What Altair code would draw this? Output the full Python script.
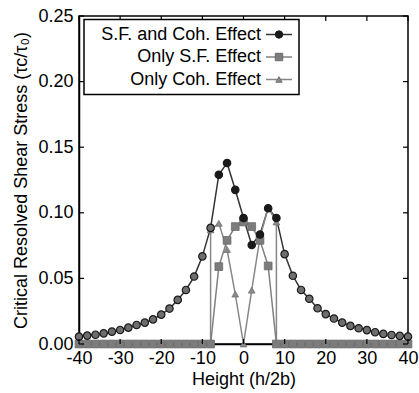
import altair as alt
import pandas as pd

# ---------------- data ----------------
heights = [-40, -38, -36, -34, -32, -30, -28, -26, -24, -22, -20, -18, -16, -14,
           -12, -10, -8, -6, -4, -2, 0, 2, 4, 6, 8, 10, 12, 14, 16, 18, 20, 22,
           24, 26, 28, 30, 32, 34, 36, 38, 40]

sf_and_coh = [0.0056, 0.0064, 0.0071, 0.0081, 0.0094, 0.0107, 0.0125, 0.0145,
              0.0163, 0.0188, 0.0224, 0.0270, 0.0336, 0.0412, 0.0514, 0.0668,
              0.0885, 0.1290, 0.1380, 0.1175, 0.0960, 0.0755, 0.0835, 0.1035,
              0.0960, 0.0685, 0.0520, 0.0412, 0.0345, 0.0272, 0.0228, 0.0194,
              0.0163, 0.0138, 0.0120, 0.0106, 0.0090, 0.0077, 0.0069, 0.0062,
              0.0056]

only_sf = [0, 0, 0, 0, 0, 0, 0, 0, 0, 0, 0, 0, 0, 0, 0, 0, 0,
           0.0590, 0.0790, 0.0895, 0.0930, 0.0895, 0.0790, 0.0595,
           0, 0, 0, 0, 0, 0, 0, 0, 0, 0, 0, 0, 0, 0, 0, 0, 0]

coh_heights = [-40, -38, -36, -34, -32, -30, -28, -26, -24, -22, -20, -18, -16,
               -14, -12, -10, -8, -8, -6, -4, -2, 0, 2, 4, 6, 8, 8, 10, 12, 14,
               16, 18, 20, 22, 24, 26, 28, 30, 32, 34, 36, 38, 40]
only_coh = [0, 0, 0, 0, 0, 0, 0, 0, 0, 0, 0, 0, 0, 0, 0, 0, 0,
            0.0870, 0.0920, 0.0720, 0.0380, 0.0, 0.0410, 0.0810, 0.1040, 0.0930,
            0, 0, 0, 0, 0, 0, 0, 0, 0, 0, 0, 0, 0, 0, 0, 0, 0]

series_names = ["S.F. and Coh. Effect", "Only S.F. Effect", "Only Coh. Effect"]
x_ticks = [-40, -30, -20, -10, 0, 10, 20, 30, 40]
y_ticks = [0.0, 0.05, 0.10, 0.15, 0.20, 0.25]

# ---------------- layout / style ----------------
W, H = 329, 328
FONT = "Liberation Sans"

xs = alt.Scale(domain=[-40, 40], nice=False, zero=False)
ys = alt.Scale(domain=[0, 0.25], nice=False)

df_c = pd.DataFrame({"h": heights, "v": sf_and_coh})
df_s = pd.DataFrame({"h": heights, "v": only_sf})
df_t = pd.DataFrame({"h": coh_heights, "v": only_coh, "i": list(range(len(coh_heights)))})

x_axis = alt.Axis(values=x_ticks, ticks=False, grid=False, labelFont=FONT,
                  labelFontSize=18, labelColor="black", labelPadding=5,
                  labelFlush=False,
                  labelExpr="datum.value < 0 ? '-' + abs(datum.value) : '' + datum.value",
                  title="Height (h/2b)", titleFont=FONT, titleFontSize=18,
                  titleFontWeight="normal", titleColor="black", titlePadding=3,
                  domainColor="black", domainWidth=1.5)
y_axis = alt.Axis(values=y_ticks, format=".2f", ticks=False, grid=False,
                  labelFont=FONT, labelFontSize=18, labelColor="black",
                  labelPadding=6, labelFlush=False,
                  title="Critical Resolved Shear Stress (τc/τ₀)", titleFont=FONT,
                  titleFontSize=18, titleFontWeight="normal", titleColor="black",
                  titlePadding=7, domainColor="black", domainWidth=1.5)

X = alt.X("h:Q", scale=xs, axis=x_axis)
Y = alt.Y("v:Q", scale=ys, axis=y_axis)

line_c = alt.Chart(df_c).mark_line(color="#333333", strokeWidth=1.5).encode(x=X, y=Y)

line_t = alt.Chart(df_t).mark_line(color="#888888", strokeWidth=1.5).encode(
    x=X, y=Y, order="i:Q")
pts_t = alt.Chart(df_t).mark_point(shape="triangle-up", filled=True, size=45,
                                   fill="#8a8a8a", stroke="#707070",
                                   strokeWidth=0.8, opacity=1).encode(x=X, y=Y)

line_s = alt.Chart(df_s).mark_line(color="#808080", strokeWidth=1.5).encode(x=X, y=Y)
pts_s = alt.Chart(df_s).mark_point(shape="square", filled=True, size=60,
                                   fill="#7c7c7c", stroke="#6a6a6a",
                                   strokeWidth=0.8, opacity=1).encode(x=X, y=Y)

pts_c = alt.Chart(df_c).mark_point(shape="circle", filled=True, size=55,
                                   stroke="#1a1a1a", strokeWidth=1.2,
                                   opacity=1).encode(
    x=X, y=Y,
    fill=alt.condition("datum.h > -7 && datum.h < 9", alt.value("#1a1a1a"),
                       alt.value("#6e6e6e")))

# inward ticks on all four sides
dfx = pd.DataFrame({"h": x_ticks})
dfy = pd.DataFrame({"v": y_ticks})
tick_b = alt.Chart(dfx).mark_rule(color="black", strokeWidth=1.2).encode(
    x=X, y=alt.value(H), y2=alt.value(H - 5))
tick_t = alt.Chart(dfx).mark_rule(color="black", strokeWidth=1.2).encode(
    x=X, y=alt.value(0), y2=alt.value(5))
tick_l = alt.Chart(dfy).mark_rule(color="black", strokeWidth=1.2).encode(
    y=Y, x=alt.value(0), x2=alt.value(5))
tick_r = alt.Chart(dfy).mark_rule(color="black", strokeWidth=1.2).encode(
    y=Y, x=alt.value(W), x2=alt.value(W - 5))

# legend box (drawn manually: label left, symbol right)
one = pd.DataFrame({"k": [0]})
leg_box = alt.Chart(one).mark_rect(fill="white", stroke="black", strokeWidth=1.5).encode(
    x=alt.value(5), x2=alt.value(220), y=alt.value(3.5), y2=alt.value(78.5))

rows_y = [18.5, 41, 63.5]
leg_layers = []
sym = [("circle", "#1a1a1a", "#1a1a1a", "#333333", 55),
       ("square", "#7c7c7c", "#6a6a6a", "#808080", 55),
       ("triangle-up", "#8a8a8a", "#707070", "#888888", 40)]
for name, yy, (shape, fill, stroke, lc, sz) in zip(series_names, rows_y, sym):
    d = pd.DataFrame({"label": [name]})
    leg_layers.append(alt.Chart(d).mark_text(align="right", baseline="middle",
                                             font=FONT, fontSize=18, color="black").encode(
        x=alt.value(182), y=alt.value(yy), text="label:N"))
    leg_layers.append(alt.Chart(d).mark_rule(color=lc, strokeWidth=1.5).encode(
        x=alt.value(187), x2=alt.value(213), y=alt.value(yy)))
    leg_layers.append(alt.Chart(d).mark_point(shape=shape, filled=True, size=sz,
                                              fill=fill, stroke=stroke,
                                              strokeWidth=1, opacity=1).encode(
        x=alt.value(200), y=alt.value(yy)))

chart = alt.layer(
    line_c, line_t, pts_t, line_s, pts_s, pts_c,
    tick_b, tick_t, tick_l, tick_r,
    leg_box, *leg_layers
).properties(
    width=W, height=H,
    autosize=alt.AutoSizeParams(type="none"),
    padding={"left": 79, "top": 16, "right": 11, "bottom": 49},
    background="white"
).configure_view(stroke="black", strokeWidth=1.5)

chart.save("out.html", embed_options={"renderer": "svg", "actions": False})
